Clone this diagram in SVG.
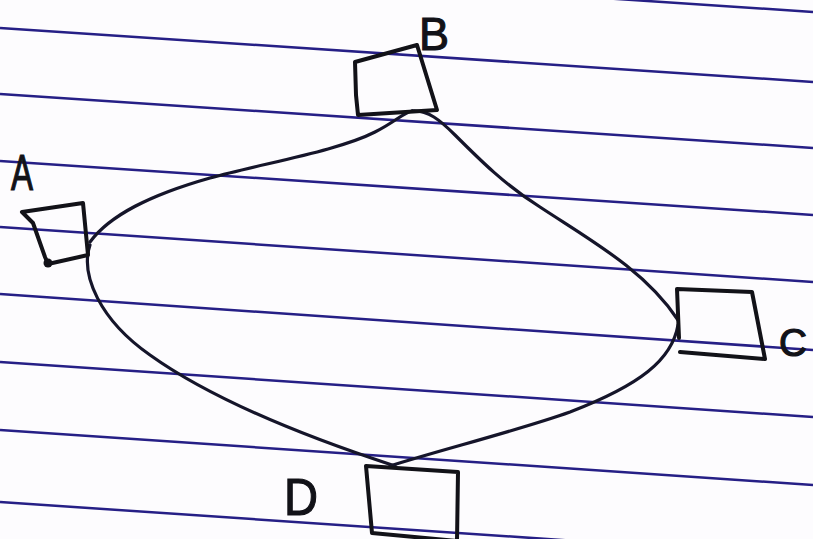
<svg xmlns="http://www.w3.org/2000/svg" width="813" height="539" viewBox="0 0 813 539">
  <style>
    .rule { stroke: #261f86; stroke-width: 2.5; fill: none; }
    .box { stroke: #121218; stroke-width: 4; fill: none; stroke-linejoin: round; stroke-linecap: round; }
    .edge { stroke: #15152a; stroke-width: 3.2; fill: none; stroke-linecap: round; }
    .lbl { font-family: "Liberation Sans", "DejaVu Sans", sans-serif; fill: #121218; stroke: #121218; stroke-width: 1.2; }
  </style>
  <rect width="813" height="539" fill="#fdfcfe"/>
  <g id="paper">
    <line class="rule" x1="0" y1="-42" x2="813" y2="12"/>
    <line class="rule" x1="0" y1="28" x2="813" y2="82"/>
    <line class="rule" x1="0" y1="94" x2="813" y2="148"/>
    <line class="rule" x1="0" y1="161" x2="813" y2="215"/>
    <line class="rule" x1="0" y1="227" x2="813" y2="282"/>
    <line class="rule" x1="0" y1="294" x2="813" y2="350"/>
    <line class="rule" x1="0" y1="362" x2="813" y2="417"/>
    <line class="rule" x1="0" y1="430" x2="813" y2="485"/>
    <line class="rule" x1="0" y1="502" x2="813" y2="557"/>
  </g>
  <g id="connectors">
    <path class="edge" d="M90,242 C110,215 150,195 210,178 C270,162 340,150 375,132 C395,122 403,113 412,111"/>
    <path class="edge" d="M412,111 C428,110 440,120 455,135 C480,160 505,185 540,207 C590,240 645,270 678,320"/>
    <path class="edge" d="M678,325 C672,360 640,385 570,412 C520,430 440,450 390,466"/>
    <path class="edge" d="M90,245 C80,275 100,320 150,355 C210,398 300,435 395,466"/>
  </g>
  <g id="node-A">
    <path class="box" d="M22,212 L83,203 L88,255 L48,264 L45,257 L33,223 Z"/>
    <circle cx="48" cy="263" r="4.5" fill="#121218"/>
    <text class="lbl" x="11" y="190" font-size="50" textLength="22" lengthAdjust="spacingAndGlyphs">A</text>
  </g>
  <g id="node-B">
    <path class="box" d="M355,62 L417,45 L437,110 L358,115 L356,95 Z"/>
    <text class="lbl" x="419" y="50" font-size="47" textLength="30" lengthAdjust="spacingAndGlyphs">B</text>
  </g>
  <g id="node-C">
    <path class="box" d="M679,338 L677,289 L752,292 L765,359 L680,352"/>
    <text class="lbl" x="779" y="356" font-size="38" textLength="28" lengthAdjust="spacingAndGlyphs">C</text>
  </g>
  <g id="node-D">
    <path class="box" d="M366,466 L458,472 L457,541 L372,533 Z"/>
    <text class="lbl" x="284" y="515" font-size="52" textLength="34" lengthAdjust="spacingAndGlyphs">D</text>
  </g>
</svg>
